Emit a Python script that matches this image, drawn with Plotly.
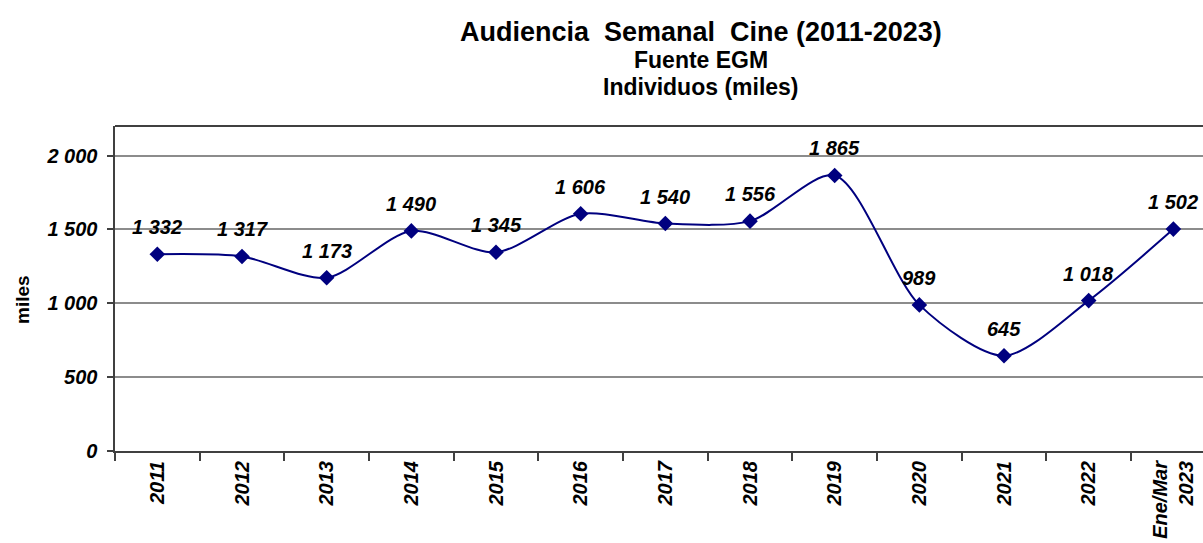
import plotly.graph_objects as go

# datos
categorias = ["2011", "2012", "2013", "2014", "2015", "2016", "2017",
              "2018", "2019", "2020", "2021", "2022", "Ene/Mar<br>2023"]
audiencia = [1332, 1317, 1173, 1490, 1345, 1606, 1540, 1556, 1865, 989, 645, 1018, 1502]
y_ticks = [0, 500, 1000, 1500, 2000]

azul = "#00007f"
gris_eje = "#404040"
fuente = "Liberation Sans, Arial"


def miles(v):
    return f"{v:,}".replace(",", " ")


fig = go.Figure()
fig.add_trace(go.Scatter(
    x=categorias, y=audiencia, mode="lines+markers",
    line=dict(color=azul, width=2, shape="spline", smoothing=0.8),
    marker=dict(symbol="diamond", size=12, color=azul),
    hoverinfo="x+y", showlegend=False,
))

font_bi = dict(family=fuente, size=20, color="black",
               weight="bold", style="italic")

# etiquetas de datos (x por indice de categoria)
for i, val in enumerate(audiencia):
    fig.add_annotation(x=i, y=val, text=miles(val), showarrow=False,
                       yshift=27, font=font_bi)

# bordes del area de trazado en pixeles de pantalla
PL, PT, PB, PR = 115, 126, 451, 1203


def px_x(p):
    return (p - PL) / (PR - PL)


def px_y(p):
    return (PB - p) / (PB - PT)


titulos = [("Audiencia  Semanal  Cine (2011-2023)", 27, 32),
           ("Fuente EGM", 23, 60),
           ("Individuos (miles)", 23, 87)]
for txt, size, ypix in titulos:
    fig.add_annotation(xref="paper", yref="paper", x=px_x(701), y=px_y(ypix),
                       text=txt, showarrow=False, xanchor="center", yanchor="middle",
                       font=dict(family=fuente, size=size, color="black", weight="bold"))

fig.add_annotation(xref="paper", yref="paper", x=px_x(22), y=px_y(300),
                   text="miles", textangle=-90, showarrow=False,
                   xanchor="center", yanchor="middle",
                   font=dict(family=fuente, size=19, color="black", weight="bold"))

# borde superior del area de trazado
fig.add_shape(type="line", xref="paper", yref="paper", x0=0, x1=1, y0=1, y1=1,
              line=dict(color=gris_eje, width=2))

fig.update_xaxes(
    type="category", range=[-0.5, 12.35], tickson="boundaries",
    ticks="outside", ticklen=8, tickwidth=2, tickcolor=gris_eje,
    showline=True, linecolor=gris_eje, linewidth=2, showgrid=False,
    tickangle=-90, tickfont=font_bi, zeroline=False,
)
fig.update_yaxes(
    range=[0, 2200], tickvals=y_ticks,
    ticktext=[miles(v) + "\u00a0" for v in y_ticks],
    ticks="outside", ticklen=6, tickwidth=2, tickcolor=gris_eje,
    showline=True, linecolor=gris_eje, linewidth=2,
    showgrid=True, gridcolor="#8c8c8c", gridwidth=1.5,
    tickfont=font_bi, zeroline=False,
)

fig.update_layout(
    width=1203, height=543,
    margin=dict(l=PL, r=1203 - PR, t=PT, b=543 - PB),
    plot_bgcolor="white", paper_bgcolor="white",
)

# quitar el margen por defecto del body para que la figura ocupe toda la ventana
fig.write_html("out.html", config={"displayModeBar": False},
               post_script="document.body.style.margin='0px';"
                           "document.body.style.overflow='hidden';")
